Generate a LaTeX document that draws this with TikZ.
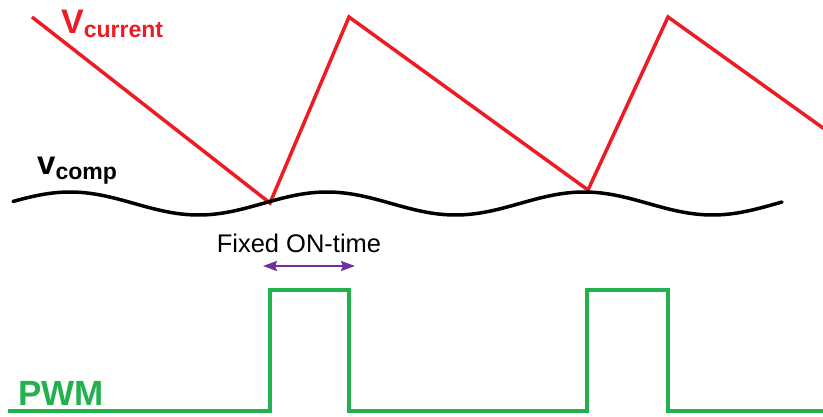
\documentclass[tikz,border=0pt]{standalone}
\usepackage{fontspec}
\setmainfont{Liberation Sans}
\usetikzlibrary{arrows.meta}
\definecolor{vred}{RGB}{237,28,36}
\definecolor{pwmgreen}{RGB}{34,177,76}
\definecolor{onpurple}{RGB}{112,48,160}
\begin{document}
\begin{tikzpicture}[x=1pt,y=-1pt,
  redwave/.style={draw=vred,line width=3.5pt},
  compwave/.style={draw=black,line width=3.5pt,line cap=round},
  pwmwave/.style={draw=pwmgreen,line width=3.5pt},
  onarrow/.style={draw=onpurple,line width=2.2pt,{Stealth[length=14pt,width=10pt,inset=2pt]}-{Stealth[length=14pt,width=10pt,inset=2pt]}},
  lbl/.style={inner sep=0pt,anchor=base west}]
\useasboundingbox (0,0) rectangle (823,417);
\begin{scope}
\clip (0,0) rectangle (823,417);
% V_current sawtooth
\coordinate (r0) at (32,17);
\coordinate (r1) at (270,203);
\coordinate (r2) at (349,17);
\coordinate (r3) at (588,190);
\coordinate (r4) at (668,17);
\coordinate (r5) at (830,133);
\draw[redwave] (r0) -- (r1) -- (r2) -- (r3) -- (r4) -- (r5);
% v_comp wave
\draw[compwave] plot[domain=13:782,samples=120,smooth] (\x,{203.5-11.5*cos(((\x-70)/257)*360)});
% PWM
\coordinate (p0) at (8,411);
\coordinate (p1) at (270,411);
\coordinate (p2) at (270,290);
\coordinate (p3) at (349,290);
\coordinate (p4) at (349,411);
\coordinate (p5) at (587,411);
\coordinate (p6) at (587,290);
\coordinate (p7) at (668,290);
\coordinate (p8) at (668,411);
\coordinate (p9) at (830,411);
\draw[pwmwave] (p0) -- (p1) -- (p2) -- (p3) -- (p4) -- (p5) -- (p6) -- (p7) -- (p8) -- (p9);
\end{scope}
% labels
\node[lbl,text=vred] (lcur) at (61,34) {\bfseries\fontsize{34}{34}\selectfont V\raisebox{-4pt}{\fontsize{23}{23}\selectfont current}};
\node[lbl,text=black] (lcomp) at (37,175) {\bfseries\fontsize{33}{33}\selectfont v\raisebox{-5pt}{\fontsize{23}{23}\selectfont comp}};
\node[lbl,text=pwmgreen] (lpwm) at (18,405) {\bfseries\fontsize{35}{35}\selectfont PWM};
\node[inner sep=0pt,anchor=base] (lon) at (299,253) {\fontsize{25.5}{25.5}\selectfont Fixed ON-time};
\coordinate (onL) at (263,266);
\coordinate (onR) at (355,266);
\draw[onarrow] (onL) -- (onR);
\end{tikzpicture}
\end{document}
